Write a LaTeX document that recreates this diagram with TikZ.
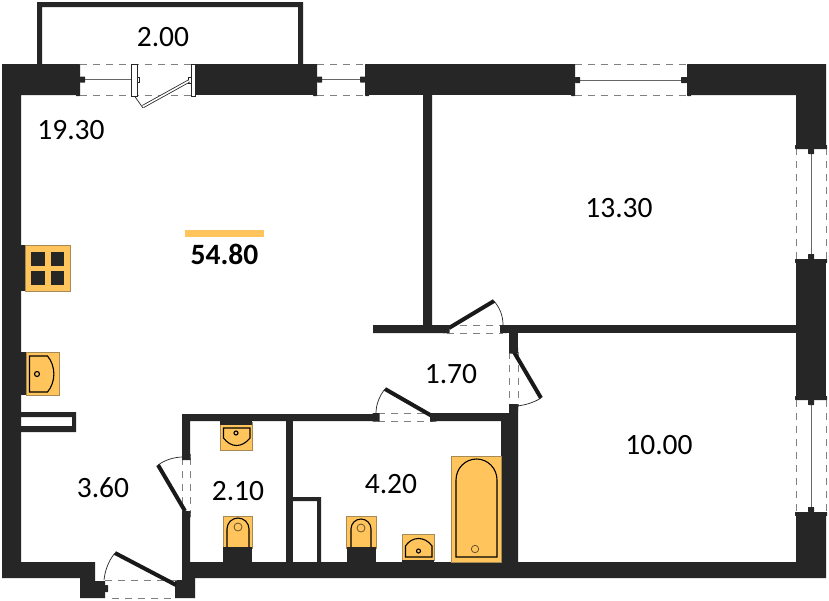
\documentclass[tikz,border=0pt]{standalone}
\usepackage{fontspec}
\setmainfont{Carlito}
\definecolor{walldark}{HTML}{262626}
\definecolor{fixture}{HTML}{FFC55C}
\definecolor{fixtureedge}{HTML}{A68A55}
\tikzset{
	wall/.style={fill=walldark, draw=none},
	jamb/.style={fill=walldark, draw=none, rounded corners=0.5pt},
	pane/.style={draw=walldark!70, line width=1pt},
	gap/.style={draw=gray, line width=1pt, dash pattern=on 7pt off 6pt},
	leaf/.style={draw=black!90, line width=4pt},
	swing/.style={draw=walldark, line width=0.7pt},
	unit/.style={fill=fixture, draw=fixtureedge, line width=0.7pt},
	bowl/.style={draw=black, line width=1.1pt},
	area/.style={font=\fontsize{29.5}{29.5}\selectfont, text=black, inner sep=0pt}
}
\begin{document}
\begin{tikzpicture}[x=1pt, y=-1pt]
	\useasboundingbox (0, 0) rectangle (829, 600);
	\fill[white] (0, 0) rectangle (829, 600);

	\fill[wall] (37, 64) -- (37, 2) -- (303, 2) -- (303, 64) -- (298, 64) -- (298, 7) -- (42, 7) -- (42, 64) -- cycle;

	\fill[wall] (2, 64) -- (78, 64) -- (78, 95) -- (21, 95) -- (21, 562) -- (95, 562) -- (95, 581) -- (105, 581) -- (105, 598) -- (80, 598) -- (80, 578) -- (2, 578) -- cycle;
	\fill[wall] (195, 64) rectangle (315, 95);
	\fill[wall] (368, 64) rectangle (573, 95);
	\fill[wall] (689, 64) -- (826, 64) -- (826, 146) -- (796, 146) -- (796, 95) -- (689, 95) -- cycle;
	\fill[wall] (796, 261) rectangle (826, 398);
	\fill[wall] (826, 514) -- (826, 578) -- (195, 578) -- (195, 598) -- (175, 598) -- (175, 580) -- (182, 580) -- (182, 514) -- (190, 514) -- (190, 562) -- (501, 562) -- (501, 421) -- (433, 421) -- (433, 413) -- (509, 413) -- (509, 407) -- (518, 407) -- (518, 562) -- (796, 562) -- (796, 514) -- cycle;
	\fill[wall] (503, 325) rectangle (796, 333);
	\fill[wall] (509, 333) rectangle (518, 350);
	\fill[wall] (373, 325) -- (423, 325) -- (423, 95) -- (432, 95) -- (432, 325) -- (447, 325) -- (447, 333) -- (373, 333) -- cycle;
	\fill[wall] (182, 414) -- (376, 414) -- (376, 421) -- (190, 421) -- (190, 456) -- (182, 456) -- cycle;
	\fill[wall] (286, 421) rectangle (293, 562);
	\fill[wall] (293, 497) -- (321, 497) -- (321, 562) -- (317, 562) -- (317, 501) -- (293, 501) -- cycle;
	\fill[wall] (21, 412) -- (76, 412) -- (76, 432) -- (21, 432) -- (21, 426) -- (72, 426) -- (72, 417) -- (21, 417) -- cycle;

	\draw[gap] (80, 64.5) -- (191, 64.5);
	\draw[gap] (80, 95) -- (191, 95);
	\draw[gap] (317, 64.5) -- (365, 64.5);
	\draw[gap] (317, 95) -- (365, 95);
	\draw[gap] (575, 64.5) -- (687, 64.5);
	\draw[gap] (575, 95) -- (687, 95);
	\draw[gap] (796.5, 148) -- (796.5, 260);
	\draw[gap] (826.5, 148) -- (826.5, 260);
	\draw[gap] (796.5, 400) -- (796.5, 513);
	\draw[gap] (826.5, 400) -- (826.5, 513);
	\draw[gap] (447, 325.5) -- (503, 325.5);
	\draw[gap] (447, 333) -- (503, 333);
	\draw[gap] (509, 352) -- (509, 407);
	\draw[gap] (518, 352) -- (518, 407);
	\draw[gap] (378, 413.5) -- (433, 413.5);
	\draw[gap] (378, 421) -- (433, 421);
	\draw[gap] (182, 458) -- (182, 513);
	\draw[gap] (190, 458) -- (190, 513);
	\draw[gap] (105, 580.5) -- (177, 580.5);
	\draw[gap] (112, 598) -- (175, 598);

	\draw[pane] (84, 79.5) -- (131, 79.5);
	\fill[jamb] (76, 64) rectangle (80, 96);
	\fill[jamb] (80, 76.5) rectangle (85, 82.5);
	\draw[pane] (320, 79.5) -- (361, 79.5);
	\fill[jamb] (313, 64) rectangle (317, 96);
	\fill[jamb] (317, 76.5) rectangle (322, 82.5);
	\fill[jamb] (365, 64) rectangle (369, 96);
	\fill[jamb] (360, 76.5) rectangle (365, 82.5);
	\draw[pane] (580, 80) -- (682, 80);
	\fill[jamb] (571, 64) rectangle (575, 96);
	\fill[jamb] (575, 77) rectangle (580, 83);
	\fill[jamb] (687, 64) rectangle (691, 96);
	\fill[jamb] (681, 77) rectangle (687, 83);
	\draw[pane] (811, 153) -- (811, 255);
	\fill[jamb] (795, 145) rectangle (827, 149);
	\fill[jamb] (808, 149) rectangle (814, 154);
	\fill[jamb] (795, 259) rectangle (827, 263);
	\fill[jamb] (808, 254) rectangle (814, 259);
	\draw[pane] (811, 405) -- (811, 507);
	\fill[jamb] (795, 396) rectangle (827, 400);
	\fill[jamb] (808, 400) rectangle (814, 405);
	\fill[jamb] (795, 512) rectangle (827, 516);
	\fill[jamb] (808, 507) rectangle (814, 512);

	\draw[fill=white, draw=walldark, line width=0.7pt] (131.5, 64) rectangle (137, 96);
	\draw[fill=white, draw=walldark, line width=0.7pt] (137, 77) rectangle (139, 82);
	\draw[fill=white, draw=walldark, line width=0.7pt] (191.5, 64) rectangle (195, 96);
	\draw[fill=white, draw=walldark, line width=0.7pt] (188.5, 77) rectangle (191.5, 83);
	\draw[draw=walldark, line width=3.2pt] (143, 106.5) -- (189, 81);
	\draw[draw=white, line width=1.6pt] (143, 106.5) -- (189, 81);
	\draw[swing] (134.5, 96) -- (143, 108);

	\draw[leaf] (449, 328) -- (494, 301);
	\draw[swing] (494, 301) .. controls (500, 308) and (503, 316) .. (503, 325);
	\fill[jamb] (442.5, 325) rectangle (449.5, 333);
	\fill[jamb] (500, 325) rectangle (507.5, 333);
	\draw[leaf] (514, 352) -- (541, 398);
	\draw[swing] (541, 398) .. controls (533, 403) and (525, 405) .. (517, 406);
	\fill[jamb] (509, 347) rectangle (518, 353.5);
	\fill[jamb] (509, 404) rectangle (518, 411);
	\draw[leaf] (432, 416) -- (385, 389);
	\draw[swing] (385, 389) .. controls (380, 395) and (376, 404) .. (376, 413);
	\fill[jamb] (372.5, 413) rectangle (379.5, 421.5);
	\fill[jamb] (430, 413) rectangle (436.5, 421.5);
	\draw[leaf] (185, 511) -- (158, 465);
	\draw[swing] (158, 465) .. controls (165, 460) and (174, 457) .. (183, 457);
	\fill[jamb] (182, 453.5) rectangle (190.5, 460);
	\fill[jamb] (182, 511) rectangle (190.5, 517.5);
	\draw[leaf] (176, 585) -- (115, 553);
	\draw[swing] (115, 553) .. controls (109, 560) and (105, 570) .. (104, 580);
	\fill[jamb] (105, 585) rectangle (108, 592);

	\fill[wall] (21, 245) rectangle (26, 291);
	\draw[unit] (25.5, 245) rectangle (70, 291);
	\fill[wall] (31, 252) rectangle (44.5, 265.5);
	\fill[wall] (50.5, 252) rectangle (64, 265.5);
	\fill[wall] (31, 271) rectangle (44.5, 285);
	\fill[wall] (50.5, 271) rectangle (64, 285);

	\fill[wall] (21, 352) rectangle (26, 395);
	\draw[unit] (26, 352) rectangle (59.5, 395);
	\draw[bowl] (29.5, 356) -- (47.5, 356) .. controls (56, 366) and (56, 382) .. (47.5, 392) -- (29.5, 392) -- cycle;
	\draw[bowl] (37, 374) circle (2.5);

	\draw[unit] (220, 422) rectangle (252, 450);
	\fill[wall] (220, 421) rectangle (252, 425);
	\draw[bowl] (223.5, 428) -- (250, 428) -- (250, 438) .. controls (242, 448) and (231, 448) .. (223.5, 438) -- cycle;
	\draw[bowl] (236, 433) circle (2);

	\draw[unit] (223, 516) rectangle (252, 548);
	\fill[wall] (223, 547) rectangle (252, 562);
	\draw[bowl] (227, 547) -- (227, 529) arc[start angle=180, end angle=360, x radius=11, y radius=11] -- (249, 547);
	\draw[draw=fixtureedge!60!black, line width=0.8pt] (238, 527) circle (4);

	\draw[unit] (346, 516) rectangle (376, 548);
	\fill[wall] (346.5, 547) rectangle (376, 562);
	\draw[bowl] (351, 547) -- (351, 529) arc[start angle=180, end angle=360, x radius=10, y radius=10] -- (371, 547);
	\draw[draw=fixtureedge!60!black, line width=0.8pt] (361, 528) circle (4);

	\draw[unit] (402, 534) rectangle (434, 560);
	\fill[wall] (402, 560) rectangle (434, 562);
	\draw[bowl] (405.5, 557) -- (405.5, 546) .. controls (412, 536) and (425, 536) .. (432, 546) -- (432, 557) -- cycle;
	\draw[bowl] (418.5, 551) circle (2);

	\draw[unit] (451, 456) rectangle (501, 562);
	\draw[bowl] (456, 557) -- (456, 480) arc[start angle=180, end angle=360, x radius=20.5, y radius=21] -- (497, 557) -- cycle;
	\draw[draw=fixtureedge!60!black, line width=0.8pt] (475, 549) circle (3.7);

	\fill[fixture] (185, 230) rectangle (264, 237);

	\node[area] (balcony) at (163, 37.5) {2.00};
	\node[area] (living) at (71, 130.5) {19.30};
	\node[area, font=\fontsize{29.5}{29.5}\selectfont\bfseries] (total) at (224.5, 254.5) {54.80};
	\node[area] (bedroom) at (619, 208.5) {13.30};
	\node[area] (hall) at (451, 374.5) {1.70};
	\node[area] (second) at (659, 445.5) {10.00};
	\node[area] (lobby) at (103, 487.5) {3.60};
	\node[area] (wc) at (238, 491.5) {2.10};
	\node[area] (bath) at (391, 484.5) {4.20};
\end{tikzpicture}
\end{document}
